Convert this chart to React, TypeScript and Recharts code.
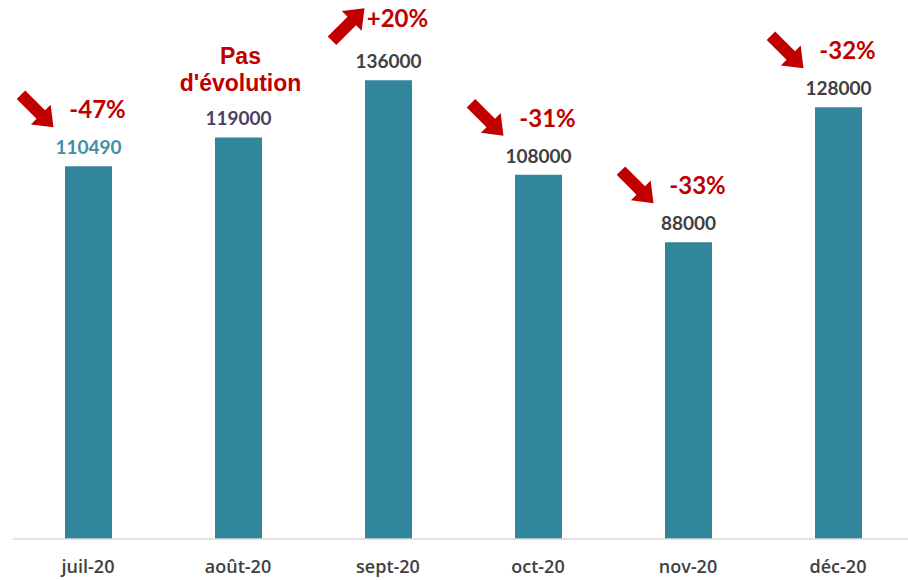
import { BarChart, Bar, XAxis, YAxis, LabelList } from 'recharts';

const MONTHS = ['juil-20', 'août-20', 'sept-20', 'oct-20', 'nov-20', 'déc-20'];
const VISITS = [110490, 119000, 136000, 108000, 88000, 128000];
const CHANGES = ['-47%', "Pas\nd'évolution", '+20%', '-31%', '-33%', '-32%'];
const TRENDS = ['down', 'none', 'up', 'down', 'down', 'down'];

const VALUE_COLORS = ['#3f8fa4', '#4b3f5f', '#404040', '#404040', '#404040', '#404040'];
const BAR_COLOR = '#31869b';
const RED = '#c00000';

const data = MONTHS.map((m, i) => ({ month: m, value: VISITS[i], change: CHANGES[i], trend: TRENDS[i] }));

function Arrow({ tipX, tipY, angle }: { tipX: number; tipY: number; angle: number }) {
    // arrow pointing along +x with its tip at origin, then rotated
    const pts = '0,0 -18,-14 -18,-6 -46,-6 -46,6 -18,6 -18,14';
    return <polygon points={pts} fill={RED} transform={`translate(${tipX},${tipY}) rotate(${angle})`} />;
}

function ValueLabel(props: any) {
    const { x, y, width, index, value } = props;
    return (
        <text
            x={x + width / 2}
            y={y - 17}
            textAnchor="middle"
            dominantBaseline="middle"
            fontFamily="Lato"
            fontWeight={700}
            fontSize={19}
            fill={VALUE_COLORS[index]}
        >
            {value}
        </text>
    );
}

function ChangeLabel(props: any) {
    const { x, y, width, index } = props;
    const cx = x + width / 2;
    const item = data[index];
    if (item.trend === 'none') {
        const lines = item.change.split('\n');
        return (
            <g fontFamily="Liberation Sans" fontWeight={700} fontSize={23} fill={RED} textAnchor="middle">
                <text x={cx + 2} y={y - 80} dominantBaseline="middle">{lines[0]}</text>
                <text x={cx + 2} y={y - 53} dominantBaseline="middle">{lines[1]}</text>
            </g>
        );
    }
    const up = item.trend === 'up';
    return (
        <g>
            <text
                x={cx + 9}
                y={up ? y - 59 : y - 54}
                textAnchor="middle"
                dominantBaseline="middle"
                fontFamily="Lato"
                fontWeight={700}
                fontSize={24}
                fill={RED}
            >
                {item.change}
            </text>
            {up ? (
                <Arrow tipX={cx - 24} tipY={y - 72} angle={-45} />
            ) : (
                <Arrow tipX={cx - 35} tipY={y - 39} angle={45} />
            )}
        </g>
    );
}

function MonthTick(props: any) {
    const { x, y, payload } = props;
    return (
        <text
            x={x}
            y={y + 21}
            textAnchor="middle"
            dominantBaseline="middle"
            fontFamily="Open Sans"
            fontWeight={600}
            fontSize={18}
            fill="#404040"
        >
            {payload.value}
        </text>
    );
}

export default function App() {
    return (
        <div style={{ position: 'absolute', left: 0, top: 0, width: 908, height: 580, overflow: 'hidden', background: '#fff' }}>
            <BarChart
                width={913}
                height={580}
                data={data}
                margin={{ top: 33, right: 0, bottom: 0, left: 13 }}
                barCategoryGap={0}
            >
                <XAxis
                    dataKey="month"
                    height={41}
                    tickLine={false}
                    axisLine={{ stroke: '#d9d9d9', strokeWidth: 1.5 }}
                    tick={<MonthTick />}
                    interval={0}
                />
                <YAxis hide domain={[0, 150000]} />
                <Bar dataKey="value" fill={BAR_COLOR} barSize={47} isAnimationActive={false}>
                    <LabelList dataKey="value" content={<ValueLabel />} />
                    <LabelList dataKey="change" content={<ChangeLabel />} />
                </Bar>
            </BarChart>
        </div>
    );
}
